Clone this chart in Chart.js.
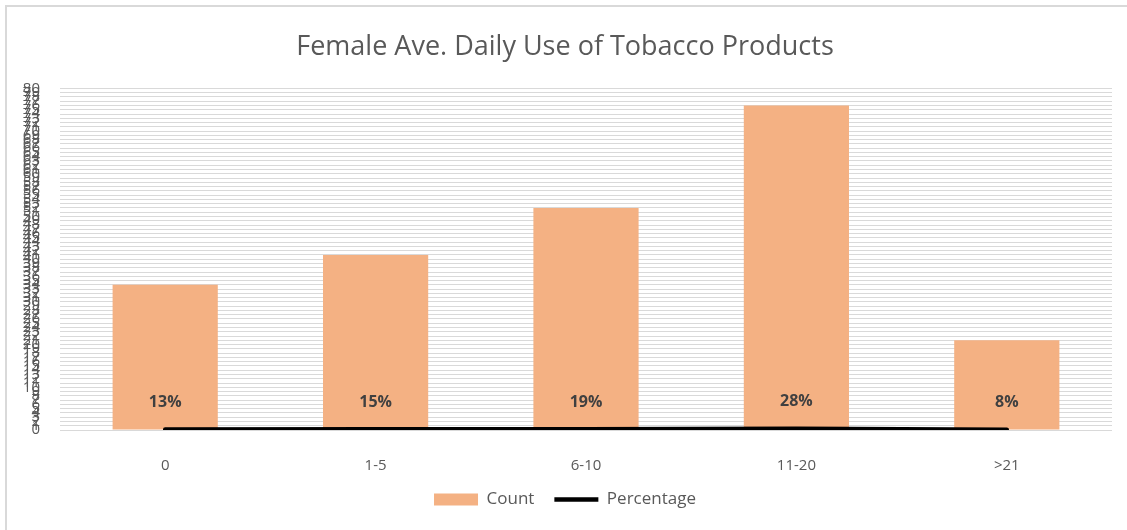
<!DOCTYPE html>
<html>
<head>
<meta charset="utf-8">
<script src="https://cdn.jsdelivr.net/npm/chart.js@4"></script>
<style>
  html, body { margin: 0; padding: 0; background: #fff; }
  #wrap { position: relative; width: 1127px; height: 530px; }
  #frame { position: absolute; left: 5px; top: 5px; right: -10px; bottom: -10px; border-left: 2px solid #d9d9d9; border-top: 2px solid #d9d9d9; pointer-events: none; }
</style>
</head>
<body>
<div id="wrap">
  <canvas id="c" width="1127" height="530"></canvas>
  <div id="frame"></div>
</div>
<script>
const categories = ['0', '1-5', '6-10', '11-20', '>21'];
const counts      = [34, 41, 52, 76, 21];          // barre "Count"
const percentages = [0.13, 0.15, 0.19, 0.28, 0.08]; // linea "Percentage", stessa scala
const yMax = 80;

const grey = '#595959';
const font = '"Open Sans", "Liberation Sans", sans-serif';

// etichette % sopra i punti della linea
const pctLabels = {
  id: 'pctLabels',
  afterDatasetsDraw(chart) {
    const ctx = chart.ctx;
    const meta = chart.getDatasetMeta(1);
    ctx.save();
    ctx.font = 'bold 16px ' + font;
    ctx.fillStyle = '#404040';
    ctx.textAlign = 'center';
    ctx.textBaseline = 'middle';
    meta.data.forEach((pt, i) => {
      ctx.fillText(Math.round(percentages[i] * 100) + '%', pt.x, pt.y - 27);
    });
    ctx.restore();
  }
};

new Chart(document.getElementById('c'), {
  data: {
    labels: categories,
    datasets: [
      {
        type: 'bar', label: 'Count', data: counts,
        backgroundColor: '#f4b183', borderWidth: 0,
        categoryPercentage: 1, barPercentage: 0.5,
        pointStyle: 'rect', order: 2
      },
      {
        type: 'line', label: 'Percentage', data: percentages,
        borderColor: '#000', backgroundColor: '#000', borderWidth: 4.5,
        borderCapStyle: 'round', pointRadius: 0, pointHoverRadius: 0,
        pointStyle: 'line', tension: 0, order: 1
      }
    ]
  },
  options: {
    responsive: false, animation: false,
    layout: { padding: { left: 18, right: 15, top: 0, bottom: 12 } },
    plugins: {
      title: {
        display: true, text: 'Female Ave. Daily Use of Tobacco Products',
        color: grey, font: { family: font, size: 27, weight: 'normal' },
        padding: { top: 31, bottom: 25 }
      },
      legend: {
        position: 'bottom',
        labels: {
          usePointStyle: true, pointStyleWidth: 44, boxHeight: 12,
          color: grey, font: { family: font, size: 17 }, padding: 20,
          sort: (a, b) => a.datasetIndex - b.datasetIndex
        }
      },
      tooltip: { enabled: false }
    },
    scales: {
      x: {
        afterFit: s => { s.height = 41; },
        grid: { display: false },
        border: { display: false },
        ticks: { color: grey, font: { family: font, size: 15 }, padding: 19 }
      },
      y: {
        min: 0, max: yMax,
        afterFit: s => { s.width = 42; },
        grid: { color: '#d9d9d9', drawTicks: false },
        border: { display: false },
        ticks: { stepSize: 1, autoSkip: false, color: grey, font: { family: font, size: 15 }, padding: 20 }
      }
    }
  },
  plugins: [pctLabels]
});
</script>
</body>
</html>
